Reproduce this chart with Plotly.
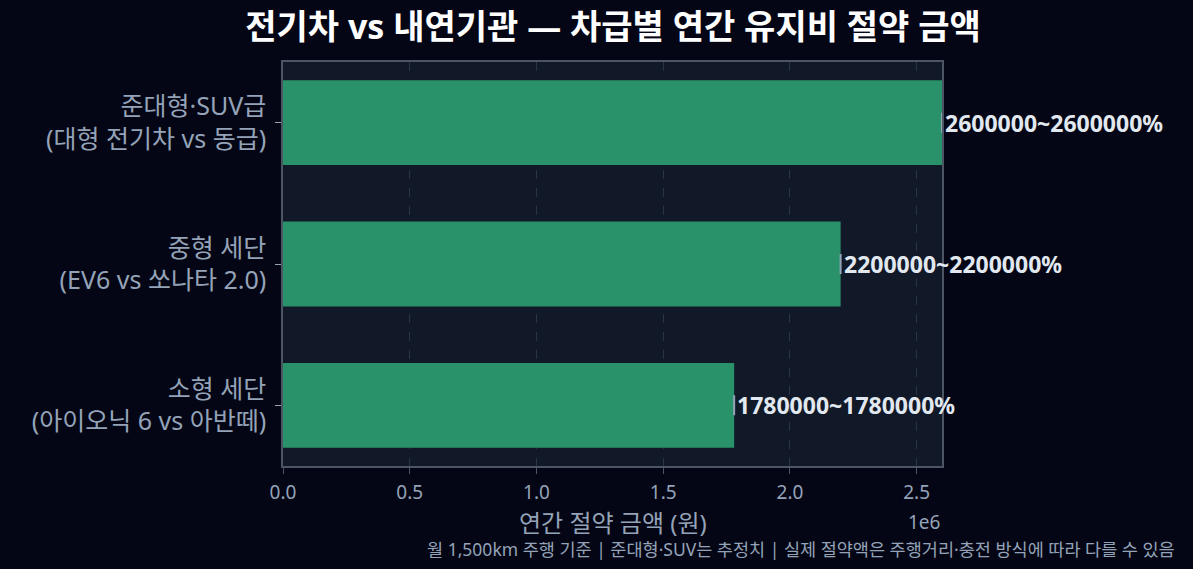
import plotly.graph_objects as go

categories = ["소형 세단<br>(아이오닉 6 vs 아반떼)", "중형 세단<br>(EV6 vs 쏘나타 2.0)", "준대형·SUV급<br>(대형 전기차 vs 동급)"]
savings = [1780000, 2200000, 2600000]
x_tick_vals = [0, 500000, 1000000, 1500000, 2000000, 2500000]
x_tick_text = ["0.0", "0.5", "1.0", "1.5", "2.0", "2.5"]

FONT = "Noto Sans, Noto Sans CJK KR"
ypos = list(range(len(categories)))

plot_left, plot_right, plot_top, plot_bottom = 283, 942, 62, 466
W, H = 1193, 569
ph = plot_bottom - plot_top
pw = plot_right - plot_left

def py(pix):
    return (plot_bottom - pix) / ph

def px(pix):
    return (pix - plot_left) / pw

fig = go.Figure()
fig.add_trace(go.Bar(
    x=savings, y=ypos, orientation="h", width=0.6,
    marker=dict(color="#29926a", line=dict(width=0)),
    error_x=dict(type="data", array=[0] * len(savings), visible=True,
                 color="#94a3b8", thickness=2, width=10),
    hoverinfo="skip", showlegend=False,
))

annotations = []
for v, y in zip(savings, ypos):
    annotations.append(dict(
        x=v, y=y, xref="x", yref="y", xanchor="left", yanchor="middle",
        text=f"<b>{v}~{v}%</b>", showarrow=False, xshift=1,
        font=dict(family=FONT, size=23, color="#e2e8f0"),
    ))
annotations.append(dict(
    x=1.0, y=py(522), xref="paper", yref="paper", xanchor="right", yanchor="middle",
    text="1e6", showarrow=False, font=dict(family=FONT, size=19, color="#94a3b8"),
))
annotations.append(dict(
    x=px(1177), y=py(549), xref="paper", yref="paper", xanchor="right", yanchor="middle",
    text="월 1,500km 주행 기준 | 준대형·SUV는 추정치 | 실제 절약액은 주행거리·충전 방식에 따라 다를 수 있음",
    showarrow=False, font=dict(family=FONT, size=17.5, color="#94a3b8"),
))
annotations.append(dict(
    x=px(613), y=py(522), xref="paper", yref="paper", xanchor="center", yanchor="middle",
    text="연간 절약 금액 (원)", showarrow=False,
    font=dict(family=FONT, size=24, color="#94a3b8"),
))

fig.update_layout(
    width=W, height=H,
    paper_bgcolor="#040615", plot_bgcolor="#111827",
    margin=dict(l=plot_left, r=W - plot_right, t=plot_top, b=H - plot_bottom),
    title=dict(text="<b>전기차 vs 내연기관 — 차급별 연간 유지비 절약 금액</b>",
               x=613 / W, xanchor="center", y=1 - 27 / H, yanchor="middle",
               font=dict(family=FONT, size=34, color="#ffffff")),
    font=dict(family=FONT, color="#94a3b8"),
    annotations=annotations,
)
fig.update_xaxes(
    range=[0, 2600000], tickvals=x_tick_vals, ticktext=x_tick_text,
    tickfont=dict(family=FONT, size=19, color="#94a3b8"),
    ticks="outside", ticklen=6, tickcolor="#4b5563", ticklabelstandoff=2,
    showgrid=True, gridcolor="#2a3444", griddash="dash", gridwidth=1,
    zeroline=False, showline=True, linecolor="#4b5563", linewidth=1.5, mirror=True,
)
fig.update_yaxes(
    range=[-0.43, 2.43], tickvals=ypos, ticktext=categories,
    tickfont=dict(family=FONT, size=25, color="#94a3b8"),
    ticks="outside", ticklen=6, tickcolor="#94a3b8", ticklabelstandoff=4,
    showgrid=False, zeroline=False, showline=True, linecolor="#4b5563", linewidth=1.5, mirror=True,
)

fig.write_html("out.html")
